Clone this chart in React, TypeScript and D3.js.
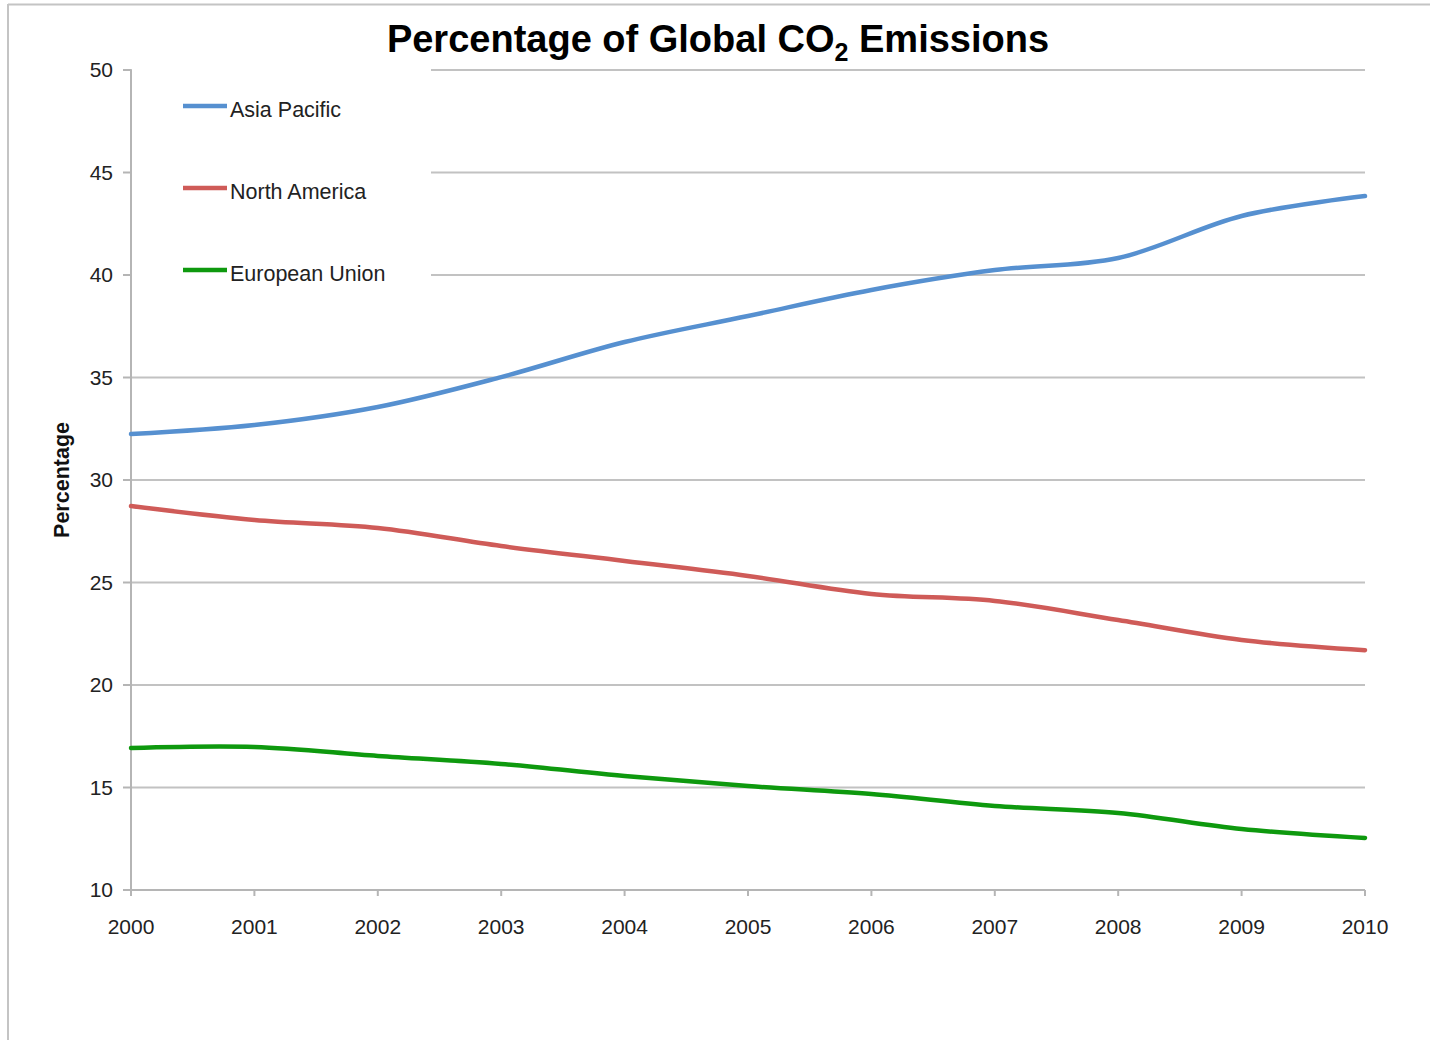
import React from "react";
import * as d3 from "d3";

const years = [2000, 2001, 2002, 2003, 2004, 2005, 2006, 2007, 2008, 2009, 2010];
const asiaPacific = [32.24, 32.68, 33.56, 35.02, 36.73, 38.0, 39.27, 40.24, 40.83, 42.88, 43.85];
const northAmerica = [28.73, 28.05, 27.66, 26.78, 26.05, 25.32, 24.44, 24.1, 23.17, 22.2, 21.7];
const europeanUnion = [16.93, 16.98, 16.54, 16.15, 15.56, 15.07, 14.68, 14.1, 13.76, 12.98, 12.54];
const yTicks = [10, 15, 20, 25, 30, 35, 40, 45, 50];
const seriesNames = ["Asia Pacific", "North America", "European Union"];
const seriesColors = ["#5690D0", "#CF5B58", "#0E990E"];

const W = 1430;
const H = 1040;
const FONT = "'Liberation Sans', Arial, Helvetica, sans-serif";

export default function App() {
  const x = d3.scaleLinear().domain([2000, 2010]).range([131, 1365]);
  const y = d3.scaleLinear().domain([10, 50]).range([890, 70]);
  const seriesValues = [asiaPacific, northAmerica, europeanUnion];
  const line = d3
    .line<[number, number]>()
    .x((d) => x(d[0]))
    .y((d) => y(d[1]))
    .curve(d3.curveCatmullRom.alpha(0.5));

  const legendY = [106, 188, 270];

  return (
    <svg
      width={W}
      height={H}
      style={{ position: "absolute", left: 0, top: 0, background: "#fff" }}
    >
      {/* frame */}
      <line x1={8} y1={4.5} x2={W} y2={4.5} stroke="#C4C4C4" strokeWidth={2} />
      <line x1={8} y1={4} x2={8} y2={H} stroke="#C4C4C4" strokeWidth={2} />

      {/* gridlines */}
      {yTicks.slice(1).map((t) => (
        <line key={t} x1={131} x2={1365} y1={y(t)} y2={y(t)} stroke="#C2C2C2" strokeWidth={2} />
      ))}
      {/* legend background */}
      <rect x={132} y={58} width={299} height={228} fill="#fff" />

      {/* y axis */}
      <line x1={131} x2={131} y1={y(50)} y2={y(10)} stroke="#B5B5B5" strokeWidth={2} />
      {yTicks.map((t) => (
        <g key={t}>
          <line x1={123} x2={131} y1={y(t)} y2={y(t)} stroke="#B5B5B5" strokeWidth={2} />
          <text
            x={113}
            y={y(t)}
            dy="0.35em"
            textAnchor="end"
            fontFamily={FONT}
            fontSize={21}
            fill="#222"
          >
            {t}
          </text>
        </g>
      ))}

      {/* x axis */}
      <line x1={131} x2={1365} y1={y(10)} y2={y(10)} stroke="#B5B5B5" strokeWidth={2} />
      {years.map((yr) => (
        <g key={yr}>
          <line x1={x(yr)} x2={x(yr)} y1={y(10)} y2={y(10) + 6} stroke="#B5B5B5" strokeWidth={2} />
          <text
            x={x(yr)}
            y={934}
            textAnchor="middle"
            fontFamily={FONT}
            fontSize={21}
            fill="#222"
          >
            {yr}
          </text>
        </g>
      ))}

      {/* series */}
      {seriesValues.map((vals, i) => (
        <path
          key={seriesNames[i]}
          d={line(years.map((yr, j) => [yr, vals[j]] as [number, number])) || ""}
          fill="none"
          stroke={seriesColors[i]}
          strokeWidth={4.5}
          strokeLinecap="round"
        />
      ))}

      {/* legend */}
      {seriesNames.map((name, i) => (
        <g key={name}>
          <line x1={183} x2={227} y1={legendY[i]} y2={legendY[i]} stroke={seriesColors[i]} strokeWidth={4.5} />
          <text
            x={230}
            y={legendY[i] + 11}
            fontFamily={FONT}
            fontSize={21.5}
            fill="#222"
          >
            {name}
          </text>
        </g>
      ))}

      {/* y axis title */}
      <text
        transform={`translate(69,480) rotate(-90)`}
        textAnchor="middle"
        fontFamily={FONT}
        fontSize={21.5}
        fontWeight="bold"
        fill="#111"
      >
        Percentage
      </text>

      {/* title */}
      <text
        x={718}
        y={52}
        textAnchor="middle"
        fontFamily={FONT}
        fontSize={38}
        fontWeight="bold"
        fill="#000"
      >
        Percentage of Global CO
        <tspan fontSize={25} dy={9}>2</tspan>
        <tspan dy={-9}> Emissions</tspan>
      </text>
    </svg>
  );
}
